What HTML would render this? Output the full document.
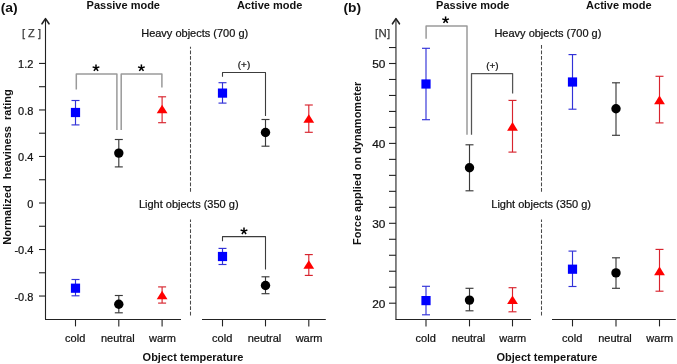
<!DOCTYPE html>
<html><head><meta charset="utf-8"><style>
html,body{margin:0;padding:0;background:#fff;}
body{width:677px;height:364px;overflow:hidden;}
svg{display:block;font-family:"Liberation Sans", sans-serif;will-change:transform;}
</style></head><body>
<svg width="677" height="364" viewBox="0 0 677 364">
<rect width="677" height="364" fill="#fff"/>
<line x1="45.5" y1="18.8" x2="45.5" y2="319.5" stroke="#222" stroke-width="1.1" />
<polyline points="42.0,23.8 45.5,18.6 49.0,23.8" fill="none" stroke="#222" stroke-width="1.6" stroke-linecap="round" stroke-linejoin="round"/>
<line x1="45.0" y1="319.5" x2="181" y2="319.5" stroke="#222" stroke-width="1.1" />
<line x1="202" y1="319.5" x2="325.8" y2="319.5" stroke="#222" stroke-width="1.1" />
<line x1="75.5" y1="319.5" x2="75.5" y2="326.4" stroke="#222" stroke-width="1.1" />
<line x1="118.8" y1="319.5" x2="118.8" y2="326.4" stroke="#222" stroke-width="1.1" />
<line x1="162.1" y1="319.5" x2="162.1" y2="326.4" stroke="#222" stroke-width="1.1" />
<line x1="222.5" y1="319.5" x2="222.5" y2="326.4" stroke="#222" stroke-width="1.1" />
<line x1="265.5" y1="319.5" x2="265.5" y2="326.4" stroke="#222" stroke-width="1.1" />
<line x1="308.8" y1="319.5" x2="308.8" y2="326.4" stroke="#222" stroke-width="1.1" />
<text x="75.2" y="341.8" font-size="11" font-weight="normal" text-anchor="middle" fill="#111" stroke="#111" stroke-width="0.22" >cold</text>
<text x="117.8" y="341.8" font-size="11" font-weight="normal" text-anchor="middle" fill="#111" stroke="#111" stroke-width="0.22" >neutral</text>
<text x="162.4" y="341.8" font-size="11" font-weight="normal" text-anchor="middle" fill="#111" stroke="#111" stroke-width="0.22" >warm</text>
<text x="222.2" y="341.8" font-size="11" font-weight="normal" text-anchor="middle" fill="#111" stroke="#111" stroke-width="0.22" >cold</text>
<text x="264.5" y="341.8" font-size="11" font-weight="normal" text-anchor="middle" fill="#111" stroke="#111" stroke-width="0.22" >neutral</text>
<text x="309.1" y="341.8" font-size="11" font-weight="normal" text-anchor="middle" fill="#111" stroke="#111" stroke-width="0.22" >warm</text>
<text x="142.6" y="360.9" font-size="11" font-weight="bold" text-anchor="start" fill="#111" >Object temperature</text>
<line x1="39" y1="63.44" x2="45.5" y2="63.44" stroke="#222" stroke-width="1.1" />
<text x="33.4" y="68.14" font-size="11" font-weight="normal" text-anchor="end" fill="#111" stroke="#111" stroke-width="0.22" >1.2</text>
<line x1="39" y1="86.7" x2="45.5" y2="86.7" stroke="#222" stroke-width="1.1" />
<line x1="39" y1="109.96" x2="45.5" y2="109.96" stroke="#222" stroke-width="1.1" />
<text x="33.4" y="114.66" font-size="11" font-weight="normal" text-anchor="end" fill="#111" stroke="#111" stroke-width="0.22" >0.8</text>
<line x1="39" y1="133.22" x2="45.5" y2="133.22" stroke="#222" stroke-width="1.1" />
<line x1="39" y1="156.48" x2="45.5" y2="156.48" stroke="#222" stroke-width="1.1" />
<text x="33.4" y="161.17999999999998" font-size="11" font-weight="normal" text-anchor="end" fill="#111" stroke="#111" stroke-width="0.22" >0.4</text>
<line x1="39" y1="179.74" x2="45.5" y2="179.74" stroke="#222" stroke-width="1.1" />
<line x1="39" y1="203.0" x2="45.5" y2="203.0" stroke="#222" stroke-width="1.1" />
<text x="33.4" y="207.7" font-size="11" font-weight="normal" text-anchor="end" fill="#111" stroke="#111" stroke-width="0.22" >0</text>
<line x1="39" y1="226.26" x2="45.5" y2="226.26" stroke="#222" stroke-width="1.1" />
<line x1="39" y1="249.52" x2="45.5" y2="249.52" stroke="#222" stroke-width="1.1" />
<text x="33.4" y="254.22" font-size="11" font-weight="normal" text-anchor="end" fill="#111" stroke="#111" stroke-width="0.22" >-0.4</text>
<line x1="39" y1="272.78" x2="45.5" y2="272.78" stroke="#222" stroke-width="1.1" />
<line x1="39" y1="296.04" x2="45.5" y2="296.04" stroke="#222" stroke-width="1.1" />
<text x="33.4" y="300.74" font-size="11" font-weight="normal" text-anchor="end" fill="#111" stroke="#111" stroke-width="0.22" >-0.8</text>
<text x="22.0" y="36.6" font-size="11" fill="#3a3a3a" stroke="#3a3a3a" stroke-width="0.25" style="white-space:pre">[ Z ]</text>
<text transform="translate(11.3,167.0) rotate(-90)" font-size="11" font-weight="bold" text-anchor="middle" fill="#111" style="white-space:pre">Normalized  heaviness  rating</text>
<text x="86.6" y="9" font-size="11" font-weight="bold" text-anchor="start" fill="#111" >Passive mode</text>
<text x="236.9" y="9" font-size="11" font-weight="bold" text-anchor="start" fill="#111" >Active mode</text>
<text x="141.2" y="37" font-size="11" font-weight="normal" text-anchor="start" fill="#111" stroke="#111" stroke-width="0.22" >Heavy objects (700 g)</text>
<text x="138.9" y="208.2" font-size="11" font-weight="normal" text-anchor="start" fill="#111" stroke="#111" stroke-width="0.22" >Light objects (350 g)</text>
<line x1="190.5" y1="46.7" x2="190.5" y2="192.3" stroke="#4a4a4a" stroke-width="1.05" stroke-dasharray="3.8 1.7" stroke-dashoffset="1.8"/>
<line x1="190.5" y1="219.4" x2="190.5" y2="316.5" stroke="#4a4a4a" stroke-width="1.05" stroke-dasharray="3.8 1.7" stroke-dashoffset="1.2"/>
<polyline points="76.3,89.4 76.3,74 116.9,74 116.9,130" fill="none" stroke="#9a9a9a" stroke-width="1.5" stroke-linejoin="round"/>
<line x1="96" y1="68.0" x2="96.0" y2="64.45" stroke="#000" stroke-width="1.5" stroke-linecap="butt"/>
<line x1="96" y1="68.0" x2="99.38" y2="66.9" stroke="#000" stroke-width="1.5" stroke-linecap="butt"/>
<line x1="96" y1="68.0" x2="98.09" y2="70.87" stroke="#000" stroke-width="1.5" stroke-linecap="butt"/>
<line x1="96" y1="68.0" x2="93.91" y2="70.87" stroke="#000" stroke-width="1.5" stroke-linecap="butt"/>
<line x1="96" y1="68.0" x2="92.62" y2="66.9" stroke="#000" stroke-width="1.5" stroke-linecap="butt"/>
<polyline points="121.2,130 121.2,74 161.9,74 161.9,87.6" fill="none" stroke="#9a9a9a" stroke-width="1.5" stroke-linejoin="round"/>
<line x1="141.4" y1="68.0" x2="141.4" y2="64.45" stroke="#000" stroke-width="1.5" stroke-linecap="butt"/>
<line x1="141.4" y1="68.0" x2="144.78" y2="66.9" stroke="#000" stroke-width="1.5" stroke-linecap="butt"/>
<line x1="141.4" y1="68.0" x2="143.49" y2="70.87" stroke="#000" stroke-width="1.5" stroke-linecap="butt"/>
<line x1="141.4" y1="68.0" x2="139.31" y2="70.87" stroke="#000" stroke-width="1.5" stroke-linecap="butt"/>
<line x1="141.4" y1="68.0" x2="138.02" y2="66.9" stroke="#000" stroke-width="1.5" stroke-linecap="butt"/>
<polyline points="222.5,76.7 222.5,72.5 265.5,72.5 265.5,116" fill="none" stroke="#3c3c3c" stroke-width="1.1" stroke-linejoin="round"/>
<text x="244.0" y="68.3" font-size="9.9" font-weight="normal" text-anchor="middle" fill="#111" stroke="#111" stroke-width="0.22" >(+)</text>
<polyline points="222.5,241.2 222.5,236.6 265.5,236.6 265.5,269.4" fill="none" stroke="#3c3c3c" stroke-width="1.1" stroke-linejoin="round"/>
<line x1="244" y1="231.1" x2="244.0" y2="227.55" stroke="#000" stroke-width="1.5" stroke-linecap="butt"/>
<line x1="244" y1="231.1" x2="247.38" y2="230.0" stroke="#000" stroke-width="1.5" stroke-linecap="butt"/>
<line x1="244" y1="231.1" x2="246.09" y2="233.97" stroke="#000" stroke-width="1.5" stroke-linecap="butt"/>
<line x1="244" y1="231.1" x2="241.91" y2="233.97" stroke="#000" stroke-width="1.5" stroke-linecap="butt"/>
<line x1="244" y1="231.1" x2="240.62" y2="230.0" stroke="#000" stroke-width="1.5" stroke-linecap="butt"/>
<line x1="75.5" y1="100.5" x2="75.5" y2="124.9" stroke="#3232d8" stroke-width="1.15" />
<line x1="71.5" y1="100.5" x2="79.5" y2="100.5" stroke="#3232d8" stroke-width="1.15" />
<line x1="71.5" y1="124.9" x2="79.5" y2="124.9" stroke="#3232d8" stroke-width="1.15" />
<rect x="70.9" y="107.9" width="9.2" height="9.2" fill="#0000ff"/>
<line x1="118.8" y1="139.5" x2="118.8" y2="166.9" stroke="#3a3a3a" stroke-width="1.15" />
<line x1="114.8" y1="139.5" x2="122.8" y2="139.5" stroke="#3a3a3a" stroke-width="1.15" />
<line x1="114.8" y1="166.9" x2="122.8" y2="166.9" stroke="#3a3a3a" stroke-width="1.15" />
<circle cx="118.8" cy="153.1" r="4.7" fill="#000"/>
<line x1="162.1" y1="96.8" x2="162.1" y2="122.7" stroke="#d8242e" stroke-width="1.15" />
<line x1="158.1" y1="96.8" x2="166.1" y2="96.8" stroke="#d8242e" stroke-width="1.15" />
<line x1="158.1" y1="122.7" x2="166.1" y2="122.7" stroke="#d8242e" stroke-width="1.15" />
<polygon points="162.1,104.7 167.5,113.3 156.7,113.3" fill="#ff0000"/>
<line x1="222.5" y1="82.7" x2="222.5" y2="103.1" stroke="#3232d8" stroke-width="1.15" />
<line x1="218.5" y1="82.7" x2="226.5" y2="82.7" stroke="#3232d8" stroke-width="1.15" />
<line x1="218.5" y1="103.1" x2="226.5" y2="103.1" stroke="#3232d8" stroke-width="1.15" />
<rect x="217.9" y="88.5" width="9.2" height="9.2" fill="#0000ff"/>
<line x1="265.5" y1="119.5" x2="265.5" y2="146.2" stroke="#3a3a3a" stroke-width="1.15" />
<line x1="261.5" y1="119.5" x2="269.5" y2="119.5" stroke="#3a3a3a" stroke-width="1.15" />
<line x1="261.5" y1="146.2" x2="269.5" y2="146.2" stroke="#3a3a3a" stroke-width="1.15" />
<circle cx="265.5" cy="132.5" r="4.7" fill="#000"/>
<line x1="308.8" y1="105.0" x2="308.8" y2="132.3" stroke="#d8242e" stroke-width="1.15" />
<line x1="304.8" y1="105.0" x2="312.8" y2="105.0" stroke="#d8242e" stroke-width="1.15" />
<line x1="304.8" y1="132.3" x2="312.8" y2="132.3" stroke="#d8242e" stroke-width="1.15" />
<polygon points="308.8,114.2 314.2,122.8 303.40000000000003,122.8" fill="#ff0000"/>
<line x1="75.5" y1="279.5" x2="75.5" y2="295.8" stroke="#3232d8" stroke-width="1.15" />
<line x1="71.5" y1="279.5" x2="79.5" y2="279.5" stroke="#3232d8" stroke-width="1.15" />
<line x1="71.5" y1="295.8" x2="79.5" y2="295.8" stroke="#3232d8" stroke-width="1.15" />
<rect x="70.9" y="283.59999999999997" width="9.2" height="9.2" fill="#0000ff"/>
<line x1="118.8" y1="295.5" x2="118.8" y2="312.8" stroke="#3a3a3a" stroke-width="1.15" />
<line x1="114.8" y1="295.5" x2="122.8" y2="295.5" stroke="#3a3a3a" stroke-width="1.15" />
<line x1="114.8" y1="312.8" x2="122.8" y2="312.8" stroke="#3a3a3a" stroke-width="1.15" />
<circle cx="118.8" cy="304.2" r="4.7" fill="#000"/>
<line x1="162.1" y1="286.9" x2="162.1" y2="303.1" stroke="#d8242e" stroke-width="1.15" />
<line x1="158.1" y1="286.9" x2="166.1" y2="286.9" stroke="#d8242e" stroke-width="1.15" />
<line x1="158.1" y1="303.1" x2="166.1" y2="303.1" stroke="#d8242e" stroke-width="1.15" />
<polygon points="162.1,290.7 167.5,299.3 156.7,299.3" fill="#ff0000"/>
<line x1="222.5" y1="248.4" x2="222.5" y2="264.5" stroke="#3232d8" stroke-width="1.15" />
<line x1="218.5" y1="248.4" x2="226.5" y2="248.4" stroke="#3232d8" stroke-width="1.15" />
<line x1="218.5" y1="264.5" x2="226.5" y2="264.5" stroke="#3232d8" stroke-width="1.15" />
<rect x="217.9" y="251.9" width="9.2" height="9.2" fill="#0000ff"/>
<line x1="265.5" y1="276.8" x2="265.5" y2="293.7" stroke="#3a3a3a" stroke-width="1.15" />
<line x1="261.5" y1="276.8" x2="269.5" y2="276.8" stroke="#3a3a3a" stroke-width="1.15" />
<line x1="261.5" y1="293.7" x2="269.5" y2="293.7" stroke="#3a3a3a" stroke-width="1.15" />
<circle cx="265.5" cy="285.5" r="4.7" fill="#000"/>
<line x1="308.8" y1="254.6" x2="308.8" y2="275.4" stroke="#d8242e" stroke-width="1.15" />
<line x1="304.8" y1="254.6" x2="312.8" y2="254.6" stroke="#d8242e" stroke-width="1.15" />
<line x1="304.8" y1="275.4" x2="312.8" y2="275.4" stroke="#d8242e" stroke-width="1.15" />
<polygon points="308.8,260.2 314.2,268.8 303.40000000000003,268.8" fill="#ff0000"/>
<line x1="395.95" y1="18.8" x2="395.95" y2="319.5" stroke="#222" stroke-width="1.1" />
<polyline points="392.45,23.8 395.95,18.6 399.45,23.8" fill="none" stroke="#222" stroke-width="1.6" stroke-linecap="round" stroke-linejoin="round"/>
<line x1="395.45" y1="319.5" x2="531" y2="319.5" stroke="#222" stroke-width="1.1" />
<line x1="552" y1="319.5" x2="675.8" y2="319.5" stroke="#222" stroke-width="1.1" />
<line x1="426.0" y1="319.5" x2="426.0" y2="326.4" stroke="#222" stroke-width="1.1" />
<line x1="469.5" y1="319.5" x2="469.5" y2="326.4" stroke="#222" stroke-width="1.1" />
<line x1="512.5" y1="319.5" x2="512.5" y2="326.4" stroke="#222" stroke-width="1.1" />
<line x1="572.5" y1="319.5" x2="572.5" y2="326.4" stroke="#222" stroke-width="1.1" />
<line x1="616.0" y1="319.5" x2="616.0" y2="326.4" stroke="#222" stroke-width="1.1" />
<line x1="659.5" y1="319.5" x2="659.5" y2="326.4" stroke="#222" stroke-width="1.1" />
<text x="425.7" y="341.8" font-size="11" font-weight="normal" text-anchor="middle" fill="#111" stroke="#111" stroke-width="0.22" >cold</text>
<text x="468.5" y="341.8" font-size="11" font-weight="normal" text-anchor="middle" fill="#111" stroke="#111" stroke-width="0.22" >neutral</text>
<text x="512.8" y="341.8" font-size="11" font-weight="normal" text-anchor="middle" fill="#111" stroke="#111" stroke-width="0.22" >warm</text>
<text x="572.2" y="341.8" font-size="11" font-weight="normal" text-anchor="middle" fill="#111" stroke="#111" stroke-width="0.22" >cold</text>
<text x="615.0" y="341.8" font-size="11" font-weight="normal" text-anchor="middle" fill="#111" stroke="#111" stroke-width="0.22" >neutral</text>
<text x="659.8" y="341.8" font-size="11" font-weight="normal" text-anchor="middle" fill="#111" stroke="#111" stroke-width="0.22" >warm</text>
<text x="496.5" y="360.9" font-size="11" font-weight="bold" text-anchor="start" fill="#111" >Object temperature</text>
<line x1="389" y1="303.2" x2="395.95" y2="303.2" stroke="#222" stroke-width="1.1" />
<text x="385.4" y="307.5" font-size="11" font-weight="normal" text-anchor="end" fill="#111" stroke="#111" stroke-width="0.22" textLength="13.2" lengthAdjust="spacingAndGlyphs">20</text>
<line x1="389" y1="287.22" x2="395.95" y2="287.22" stroke="#222" stroke-width="1.1" />
<line x1="389" y1="271.24" x2="395.95" y2="271.24" stroke="#222" stroke-width="1.1" />
<line x1="389" y1="255.26" x2="395.95" y2="255.26" stroke="#222" stroke-width="1.1" />
<line x1="389" y1="239.28" x2="395.95" y2="239.28" stroke="#222" stroke-width="1.1" />
<line x1="389" y1="223.3" x2="395.95" y2="223.3" stroke="#222" stroke-width="1.1" />
<text x="385.4" y="227.60000000000002" font-size="11" font-weight="normal" text-anchor="end" fill="#111" stroke="#111" stroke-width="0.22" textLength="13.2" lengthAdjust="spacingAndGlyphs">30</text>
<line x1="389" y1="207.32" x2="395.95" y2="207.32" stroke="#222" stroke-width="1.1" />
<line x1="389" y1="191.34" x2="395.95" y2="191.34" stroke="#222" stroke-width="1.1" />
<line x1="389" y1="175.36" x2="395.95" y2="175.36" stroke="#222" stroke-width="1.1" />
<line x1="389" y1="159.38" x2="395.95" y2="159.38" stroke="#222" stroke-width="1.1" />
<line x1="389" y1="143.4" x2="395.95" y2="143.4" stroke="#222" stroke-width="1.1" />
<text x="385.4" y="147.70000000000002" font-size="11" font-weight="normal" text-anchor="end" fill="#111" stroke="#111" stroke-width="0.22" textLength="13.2" lengthAdjust="spacingAndGlyphs">40</text>
<line x1="389" y1="127.42" x2="395.95" y2="127.42" stroke="#222" stroke-width="1.1" />
<line x1="389" y1="111.44" x2="395.95" y2="111.44" stroke="#222" stroke-width="1.1" />
<line x1="389" y1="95.46" x2="395.95" y2="95.46" stroke="#222" stroke-width="1.1" />
<line x1="389" y1="79.48" x2="395.95" y2="79.48" stroke="#222" stroke-width="1.1" />
<line x1="389" y1="63.5" x2="395.95" y2="63.5" stroke="#222" stroke-width="1.1" />
<text x="385.4" y="67.8" font-size="11" font-weight="normal" text-anchor="end" fill="#111" stroke="#111" stroke-width="0.22" textLength="13.2" lengthAdjust="spacingAndGlyphs">50</text>
<line x1="389" y1="47.52" x2="395.95" y2="47.52" stroke="#222" stroke-width="1.1" />
<text x="374.9" y="36.6" font-size="11.4" fill="#3a3a3a" stroke="#3a3a3a" stroke-width="0.25" letter-spacing="0.4">[N]</text>
<text transform="translate(360.6,163.3) rotate(-90)" font-size="11" font-weight="bold" text-anchor="middle" fill="#111" style="white-space:pre">Force applied on dynamometer</text>
<text x="436.1" y="9" font-size="11" font-weight="bold" text-anchor="start" fill="#111" >Passive mode</text>
<text x="586.1" y="9" font-size="11" font-weight="bold" text-anchor="start" fill="#111" >Active mode</text>
<text x="494.4" y="37" font-size="11" font-weight="normal" text-anchor="start" fill="#111" stroke="#111" stroke-width="0.22" >Heavy objects (700 g)</text>
<text x="491.3" y="208.2" font-size="11" font-weight="normal" text-anchor="start" fill="#111" stroke="#111" stroke-width="0.22" >Light objects (350 g)</text>
<line x1="541.5" y1="44.9" x2="541.5" y2="192.3" stroke="#4a4a4a" stroke-width="1.05" stroke-dasharray="3.8 1.7" stroke-dashoffset="0.0"/>
<line x1="541.5" y1="219.4" x2="541.5" y2="316.5" stroke="#4a4a4a" stroke-width="1.05" stroke-dasharray="3.8 1.7" stroke-dashoffset="1.2"/>
<polyline points="426.1,38.8 426.1,26.0 467.0,26.0 467.0,134.8" fill="none" stroke="#9a9a9a" stroke-width="1.5" stroke-linejoin="round"/>
<line x1="445.6" y1="20.0" x2="445.6" y2="16.45" stroke="#000" stroke-width="1.5" stroke-linecap="butt"/>
<line x1="445.6" y1="20.0" x2="448.98" y2="18.9" stroke="#000" stroke-width="1.5" stroke-linecap="butt"/>
<line x1="445.6" y1="20.0" x2="447.69" y2="22.87" stroke="#000" stroke-width="1.5" stroke-linecap="butt"/>
<line x1="445.6" y1="20.0" x2="443.51" y2="22.87" stroke="#000" stroke-width="1.5" stroke-linecap="butt"/>
<line x1="445.6" y1="20.0" x2="442.22" y2="18.9" stroke="#000" stroke-width="1.5" stroke-linecap="butt"/>
<polyline points="471.5,134.8 471.5,73.6 512.6,73.6 512.6,93.4" fill="none" stroke="#555" stroke-width="1.25" stroke-linejoin="round"/>
<text x="492.4" y="68.9" font-size="9.9" font-weight="normal" text-anchor="middle" fill="#111" stroke="#111" stroke-width="0.22" >(+)</text>
<line x1="426.0" y1="48.3" x2="426.0" y2="119.7" stroke="#3232d8" stroke-width="1.15" />
<line x1="422.0" y1="48.3" x2="430.0" y2="48.3" stroke="#3232d8" stroke-width="1.15" />
<line x1="422.0" y1="119.7" x2="430.0" y2="119.7" stroke="#3232d8" stroke-width="1.15" />
<rect x="421.4" y="79.4" width="9.2" height="9.2" fill="#0000ff"/>
<line x1="469.5" y1="144.8" x2="469.5" y2="190.8" stroke="#3a3a3a" stroke-width="1.15" />
<line x1="465.5" y1="144.8" x2="473.5" y2="144.8" stroke="#3a3a3a" stroke-width="1.15" />
<line x1="465.5" y1="190.8" x2="473.5" y2="190.8" stroke="#3a3a3a" stroke-width="1.15" />
<circle cx="469.5" cy="167.7" r="4.7" fill="#000"/>
<line x1="512.5" y1="100.4" x2="512.5" y2="152.1" stroke="#d8242e" stroke-width="1.15" />
<line x1="508.5" y1="100.4" x2="516.5" y2="100.4" stroke="#d8242e" stroke-width="1.15" />
<line x1="508.5" y1="152.1" x2="516.5" y2="152.1" stroke="#d8242e" stroke-width="1.15" />
<polygon points="512.5,122.10000000000001 517.9,130.70000000000002 507.1,130.70000000000002" fill="#ff0000"/>
<line x1="572.5" y1="54.6" x2="572.5" y2="109.2" stroke="#3232d8" stroke-width="1.15" />
<line x1="568.5" y1="54.6" x2="576.5" y2="54.6" stroke="#3232d8" stroke-width="1.15" />
<line x1="568.5" y1="109.2" x2="576.5" y2="109.2" stroke="#3232d8" stroke-width="1.15" />
<rect x="567.9" y="77.4" width="9.2" height="9.2" fill="#0000ff"/>
<line x1="616.0" y1="82.8" x2="616.0" y2="135.3" stroke="#3a3a3a" stroke-width="1.15" />
<line x1="612.0" y1="82.8" x2="620.0" y2="82.8" stroke="#3a3a3a" stroke-width="1.15" />
<line x1="612.0" y1="135.3" x2="620.0" y2="135.3" stroke="#3a3a3a" stroke-width="1.15" />
<circle cx="616.0" cy="108.7" r="4.7" fill="#000"/>
<line x1="659.5" y1="76.3" x2="659.5" y2="122.9" stroke="#d8242e" stroke-width="1.15" />
<line x1="655.5" y1="76.3" x2="663.5" y2="76.3" stroke="#d8242e" stroke-width="1.15" />
<line x1="655.5" y1="122.9" x2="663.5" y2="122.9" stroke="#d8242e" stroke-width="1.15" />
<polygon points="659.5,95.60000000000001 664.9,104.2 654.1,104.2" fill="#ff0000"/>
<line x1="426.0" y1="286.3" x2="426.0" y2="314.8" stroke="#3232d8" stroke-width="1.15" />
<line x1="422.0" y1="286.3" x2="430.0" y2="286.3" stroke="#3232d8" stroke-width="1.15" />
<line x1="422.0" y1="314.8" x2="430.0" y2="314.8" stroke="#3232d8" stroke-width="1.15" />
<rect x="421.4" y="296.0" width="9.2" height="9.2" fill="#0000ff"/>
<line x1="469.5" y1="288.3" x2="469.5" y2="310.8" stroke="#3a3a3a" stroke-width="1.15" />
<line x1="465.5" y1="288.3" x2="473.5" y2="288.3" stroke="#3a3a3a" stroke-width="1.15" />
<line x1="465.5" y1="310.8" x2="473.5" y2="310.8" stroke="#3a3a3a" stroke-width="1.15" />
<circle cx="469.5" cy="300.1" r="4.7" fill="#000"/>
<line x1="512.5" y1="287.7" x2="512.5" y2="311.8" stroke="#d8242e" stroke-width="1.15" />
<line x1="508.5" y1="287.7" x2="516.5" y2="287.7" stroke="#d8242e" stroke-width="1.15" />
<line x1="508.5" y1="311.8" x2="516.5" y2="311.8" stroke="#d8242e" stroke-width="1.15" />
<polygon points="512.5,295.4 517.9,304.0 507.1,304.0" fill="#ff0000"/>
<line x1="572.5" y1="251.1" x2="572.5" y2="286.5" stroke="#3232d8" stroke-width="1.15" />
<line x1="568.5" y1="251.1" x2="576.5" y2="251.1" stroke="#3232d8" stroke-width="1.15" />
<line x1="568.5" y1="286.5" x2="576.5" y2="286.5" stroke="#3232d8" stroke-width="1.15" />
<rect x="567.9" y="264.59999999999997" width="9.2" height="9.2" fill="#0000ff"/>
<line x1="616.0" y1="257.8" x2="616.0" y2="288.3" stroke="#3a3a3a" stroke-width="1.15" />
<line x1="612.0" y1="257.8" x2="620.0" y2="257.8" stroke="#3a3a3a" stroke-width="1.15" />
<line x1="612.0" y1="288.3" x2="620.0" y2="288.3" stroke="#3a3a3a" stroke-width="1.15" />
<circle cx="616.0" cy="272.9" r="4.7" fill="#000"/>
<line x1="659.5" y1="249.4" x2="659.5" y2="291.2" stroke="#d8242e" stroke-width="1.15" />
<line x1="655.5" y1="249.4" x2="663.5" y2="249.4" stroke="#d8242e" stroke-width="1.15" />
<line x1="655.5" y1="291.2" x2="663.5" y2="291.2" stroke="#d8242e" stroke-width="1.15" />
<polygon points="659.5,266.59999999999997 664.9,275.2 654.1,275.2" fill="#ff0000"/>
<text x="0.7" y="11.7" font-size="13.5" font-weight="bold" text-anchor="start" fill="#111" textLength="17.0" lengthAdjust="spacingAndGlyphs">(a)</text>
<text x="343.5" y="11.7" font-size="13.5" font-weight="bold" text-anchor="start" fill="#111" textLength="17.6" lengthAdjust="spacingAndGlyphs">(b)</text>
</svg>
</body></html>
